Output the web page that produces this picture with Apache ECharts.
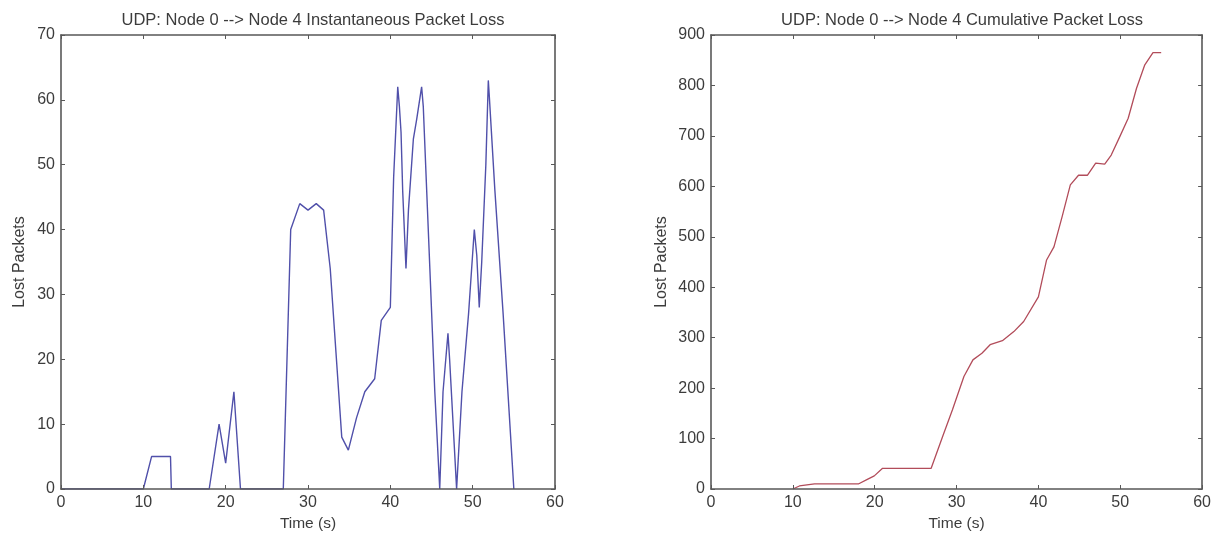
<!DOCTYPE html>
<html>
<head>
<meta charset="utf-8">
<script src="https://cdn.jsdelivr.net/npm/echarts@6/dist/echarts.min.js"></script>
<style>
  html, body { margin: 0; padding: 0; background: #ffffff; }
  #chart { width: 1214px; height: 538px; }
</style>
</head>
<body>
<div id="chart"></div>
<script>
// Instantaneous packet loss per sample (time in seconds, lost packets)
const instTime = [0, 10, 11, 13.3, 13.4, 18, 19.2, 20, 21, 21.8, 27, 27.9, 29, 30, 31, 31.9, 32.7, 33.4, 34.1, 34.9,
  35.9, 36.9, 38.1, 38.9, 40, 40.4, 40.9, 41.1, 41.3, 41.5, 41.9, 42.2, 42.8, 43.2, 43.8, 44, 44.8, 45.4, 46, 46.4,
  47, 47.2, 48.05, 48.7, 49.5, 50.2, 50.5, 50.8, 51.1, 51.6, 51.9, 52, 52.7, 53.7, 55];
const instLoss = [0, 0, 5, 5, 0, 0, 10, 4, 15, 0, 0, 40, 44, 43, 44, 43, 34, 21, 8, 6,
  11, 15, 17, 26, 28, 48, 62, 59, 55, 46, 34, 43, 54, 57, 62, 59, 34, 15, 0, 15,
  24, 20, 0, 15, 27, 40, 36, 28, 35, 50, 63, 61, 46, 27, 0];

// Running total of lost packets
const cumTime = [10, 10.8, 12.65, 18, 19.1, 19.95, 20.96, 26.9, 28.3, 29.5, 30.9, 32, 33.1, 34.1, 35.6, 37, 38.2,
  40, 41, 41.9, 42.9, 43.9, 44.9, 46, 47, 48.1, 48.9, 49.96, 50.97, 51.98, 53, 54, 55];
const cumLoss = [0, 6, 10, 10, 19, 26, 41, 41, 104, 157, 223, 256, 269, 286, 294, 312, 332,
  381, 454, 480, 540, 603, 622, 622, 646, 644, 662, 699, 735, 794, 841, 865, 865];

const titles = ['UDP: Node 0 --> Node 4 Instantaneous Packet Loss', 'UDP: Node 0 --> Node 4 Cumulative Packet Loss'];
const xName = 'Time (s)';
const yName = 'Lost Packets';
const xRange = [0, 60, 10];
const yRangeInst = [0, 70, 10];
const yRangeCum = [0, 900, 100];

const pairs = (xs, ys) => xs.map((x, i) => [x, ys[i]]);

const FONT = 'Liberation Sans';
const TEXT = '#3c3c3c';
const AXIS = '#585858';

const grids = [
  { left: 61, top: 35, width: 494, height: 454 },
  { left: 711, top: 35, width: 493, height: 454 }
];

function xAxes(gi) {
  const base = {
    type: 'value', gridIndex: gi, min: xRange[0], max: xRange[1], interval: xRange[2],
    splitLine: { show: false }, z: 5,
    axisLine: { show: true, onZero: false, lineStyle: { color: AXIS, width: 1.6 } },
    axisTick: { show: true, inside: true, length: 4, lineStyle: { color: AXIS, width: 1 } }
  };
  return [
    Object.assign({}, base, {
      position: 'bottom',
      axisLabel: { color: TEXT, fontFamily: FONT, fontSize: 16, margin: 6 },
      name: xName, nameLocation: 'middle', nameGap: 26,
      nameTextStyle: { color: TEXT, fontFamily: FONT, fontSize: 15.5 }
    }),
    Object.assign({}, base, { position: 'top', axisLabel: { show: false } })
  ];
}

function yAxes(gi, range, gap) {
  const base = {
    type: 'value', gridIndex: gi, min: range[0], max: range[1], interval: range[2],
    splitLine: { show: false }, z: 5,
    axisLine: { show: true, onZero: false, lineStyle: { color: AXIS, width: 1.6 } },
    axisTick: { show: true, inside: true, length: 4, lineStyle: { color: AXIS, width: 1 } }
  };
  return [
    Object.assign({}, base, {
      position: 'left',
      axisLabel: { color: TEXT, fontFamily: FONT, fontSize: 16, margin: 6 },
      name: yName, nameLocation: 'middle', nameGap: gap, nameRotate: 90,
      nameTextStyle: { color: TEXT, fontFamily: FONT, fontSize: 16 }
    }),
    Object.assign({}, base, { position: 'right', axisLabel: { show: false } })
  ];
}

const chart = echarts.init(document.getElementById('chart'), null, { renderer: 'canvas' });
chart.setOption({
  animation: false,
  backgroundColor: '#ffffff',
  title: [
    { text: titles[0], left: 308, top: 7, textAlign: 'center',
      textStyle: { color: TEXT, fontFamily: FONT, fontSize: 16.5, fontWeight: 'normal' } },
    { text: titles[1], left: 957, top: 7, textAlign: 'center',
      textStyle: { color: TEXT, fontFamily: FONT, fontSize: 16.5, fontWeight: 'normal' } }
  ],
  grid: grids,
  xAxis: [...xAxes(0), ...xAxes(1)],
  yAxis: [...yAxes(0, yRangeInst, 33), ...yAxes(1, yRangeCum, 41)],
  series: [
    {
      type: 'line', xAxisIndex: 0, yAxisIndex: 0, data: pairs(instTime, instLoss),
      showSymbol: false, z: 2,
      lineStyle: { color: '#5050aa', width: 1.4 }
    },
    {
      type: 'line', xAxisIndex: 2, yAxisIndex: 2, data: pairs(cumTime, cumLoss),
      showSymbol: false, z: 2,
      lineStyle: { color: '#b24c5a', width: 1.3 }
    }
  ]
});
</script>
</body>
</html>
